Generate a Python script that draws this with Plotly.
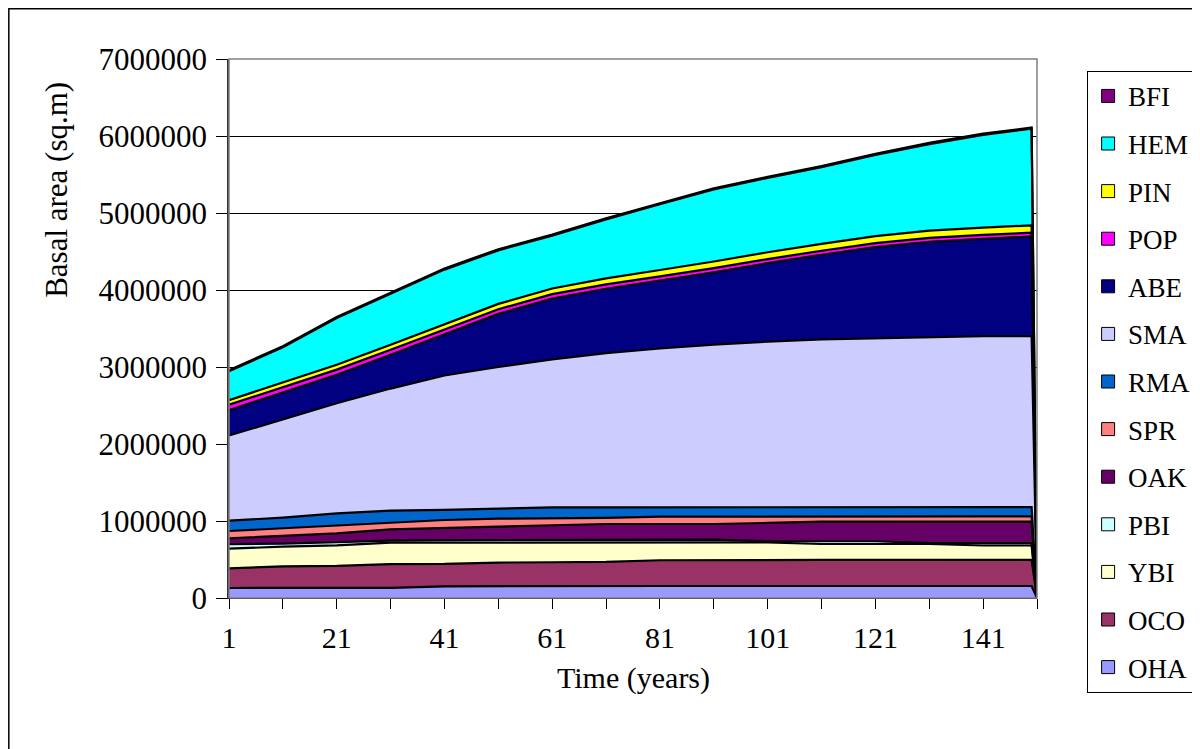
import plotly.graph_objects as go

years = [1, 11, 21, 31, 41, 51, 61, 71, 81, 91, 101, 111, 121, 131, 141, 150, 151]

OHA = [130000, 130000, 130000, 132000, 152000, 155000, 156000, 156000, 156000, 156000, 156000, 156000, 156000, 156000, 156000, 156000, 0]
OCO = [256000, 282000, 286000, 308000, 290000, 305000, 308000, 312000, 334000, 338000, 338000, 338000, 338000, 338000, 338000, 338000, 0]
YBI = [254000, 255000, 268000, 278000, 277000, 260000, 256000, 252000, 232000, 228000, 228000, 207000, 207000, 207000, 188000, 188000, 0]
PBI = [60000, 38000, 41000, 27000, 33000, 35000, 36000, 38000, 38000, 36000, 15000, 36000, 36000, 11000, 30000, 30000, 0]
OAK = [75000, 100000, 115000, 145000, 153000, 171000, 189000, 203000, 201000, 203000, 238000, 254000, 254000, 279000, 279000, 279000, 0]
SPR = [95000, 100000, 105000, 90000, 108000, 104000, 90000, 79000, 95000, 97000, 85000, 69000, 69000, 69000, 69000, 69000, 0]
RMA = [134000, 140000, 155000, 155000, 132000, 135000, 143000, 138000, 122000, 120000, 120000, 120000, 120000, 120000, 120000, 120000, 0]
SMA = [1106000, 1275000, 1430000, 1585000, 1745000, 1835000, 1922000, 2002000, 2062000, 2112000, 2150000, 2180000, 2195000, 2210000, 2220000, 2220000, 0]
ABE = [330000, 350000, 370000, 440000, 540000, 690000, 788000, 836000, 883000, 940000, 1019000, 1098000, 1182000, 1236000, 1265000, 1295000, 0]
POP = [70000, 68000, 66000, 64000, 62000, 60000, 58000, 56000, 55000, 54000, 53000, 52000, 51000, 50000, 50000, 50000, 0]
PIN = [60000, 62000, 64000, 66000, 68000, 70000, 74000, 78000, 82000, 86000, 88000, 90000, 92000, 94000, 95000, 95000, 0]
HEM = [375000, 455000, 605000, 665000, 705000, 695000, 685000, 765000, 855000, 935000, 965000, 995000, 1055000, 1125000, 1205000, 1255000, 0]
BFI = [15000, 15000, 15000, 15000, 15000, 15000, 15000, 15000, 15000, 15000, 15000, 15000, 15000, 15000, 15000, 15000, 0]

series_names = ["OHA", "OCO", "YBI", "PBI", "OAK", "SPR", "RMA", "SMA", "ABE", "POP", "PIN", "HEM", "BFI"]
series_values = [OHA, OCO, YBI, PBI, OAK, SPR, RMA, SMA, ABE, POP, PIN, HEM, BFI]
colors = {
    "OHA": "#9999FF", "OCO": "#993366", "YBI": "#FFFFCC", "PBI": "#CCFFFF",
    "OAK": "#660066", "SPR": "#FF8080", "RMA": "#0066CC", "SMA": "#CCCCFF",
    "ABE": "#000080", "POP": "#FF00FF", "PIN": "#FFFF00", "HEM": "#00FFFF",
    "BFI": "#800080",
}

x_tickvals = list(range(1, 152, 10))
x_ticktext = [str(v) if (v - 1) % 20 == 0 and v <= 141 else "" for v in x_tickvals]

FONT = "Liberation Serif"

fig = go.Figure()
for name, vals in zip(series_names, series_values):
    fig.add_trace(go.Scatter(
        x=years, y=vals, name=name, stackgroup="one", mode="lines",
        line=dict(color="black", width=2.2), fillcolor=colors[name],
        showlegend=False, hoverinfo="skip",
    ))

# legend entries (square swatches), top to bottom
for name in reversed(series_names):
    fig.add_trace(go.Scatter(
        x=[None], y=[None], mode="markers", name=name, legendgroup=name,
        marker=dict(symbol="square", size=13, color=colors[name],
                    line=dict(color="black", width=1)),
    ))

fig.update_layout(
    width=1192, height=741,
    margin=dict(l=221, r=163, t=51, b=151, autoexpand=False),
    paper_bgcolor="white", plot_bgcolor="white",
    font=dict(family=FONT, color="black", size=30),
    showlegend=True,
    legend=dict(
        x=1.062, y=0.978, xanchor="left", yanchor="top",
        bgcolor="white", bordercolor="black", borderwidth=1,
        font=dict(family=FONT, size=27, color="black"),
        traceorder="grouped", tracegroupgap=9.5, maxheight=720,
    ),
    xaxis=dict(
        range=[1, 151], tickvals=x_tickvals, ticktext=x_ticktext,
        ticks="outside", ticklen=10, tickcolor="black", tickwidth=1,
        showline=True, linecolor="black", linewidth=1,
        showgrid=False, zeroline=False, ticklabelstandoff=3,
        tickfont=dict(family=FONT, size=30, color="black"),
    ),
    yaxis=dict(
        range=[0, 7000000], dtick=1000000, tickformat="d",
        ticks="outside", ticklen=11, tickcolor="black", tickwidth=1,
        showline=True, linecolor="#333333", linewidth=1.5,
        showgrid=True, gridcolor="black", gridwidth=1,
        zeroline=False, ticklabelstandoff=3,
        tickfont=dict(family=FONT, size=31, color="black"),
    ),
    annotations=[
        dict(text="Basal area (sq.m)", xref="paper", yref="paper",
             x=-0.213, y=0.757, textangle=-90, showarrow=False,
             xanchor="center", yanchor="middle",
             font=dict(family=FONT, size=31, color="black")),
        dict(text="Time (years)", xref="paper", yref="paper",
             x=0.5, y=-0.148, showarrow=False,
             xanchor="center", yanchor="middle",
             font=dict(family=FONT, size=30, color="black")),
    ],
    shapes=[
        dict(type="rect", xref="paper", yref="paper", x0=0, x1=1, y0=0, y1=1,
             line=dict(color="#808080", width=1.5), layer="above"),
        dict(type="rect", xref="paper", yref="paper", x0=-0.2725, x1=1.22,
             y0=-0.30, y1=1.0932, line=dict(color="black", width=1.5),
             layer="below"),
    ],
)

fig.write_html("out.html")
